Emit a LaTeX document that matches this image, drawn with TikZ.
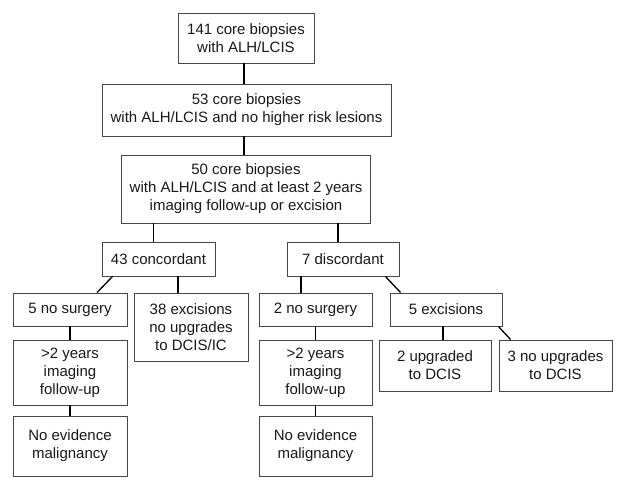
\documentclass[tikz,border=0pt]{standalone}
\usepackage{fontspec}
\setmainfont{Liberation Sans}
\begin{document}
\begin{tikzpicture}[x=1pt,y=-1pt,
  box/.style={draw=black!72,line width=0.9pt,rectangle,inner sep=0pt,align=center,
    font=\fontsize{15}{18}\selectfont,text=black!90,minimum width=113pt},
  link/.style={draw=black,line width=1.3pt}]
\useasboundingbox[fill=white] (0,0) rectangle (625,480);
\node[box,minimum width=136pt,minimum height=50pt] (b1) at (246,38) {141 core biopsies\\with ALH/LCIS};
\node[box,minimum width=289pt,minimum height=52pt] (b2) at (246.5,110) {53 core biopsies\\with ALH/LCIS and no higher risk lesions};
\node[box,minimum width=249pt,minimum height=68pt] (b3) at (246,189) {50 core biopsies\\with ALH/LCIS and at least 2 years\\imaging follow-up or excision};
\node[box,minimum height=34pt] (conc) at (158.5,259) {43 concordant};
\node[box,minimum width=112pt,minimum height=34pt] (disc) at (343,259) {7 discordant};
\node[box,minimum width=114pt,minimum height=33pt] (ns1) at (70,309.5) {5 no surgery};
\node[box,minimum width=114pt,minimum height=68pt] (exc38) at (191,327) {38 excisions\\no upgrades\\to DCIS/IC};
\node[box,minimum height=33pt] (ns2) at (315.5,309.5) {2 no surgery};
\node[box,minimum width=112pt,minimum height=33pt] (exc5) at (446,309.5) {5 excisions};
\node[box,minimum width=114pt,minimum height=65pt] (fu1) at (70,372.5) {>2 years\\imaging\\follow-up};
\node[box,minimum height=65pt] (fu2) at (315.5,372.5) {>2 years\\imaging\\follow-up};
\node[box,minimum width=112pt,minimum height=51pt] (up2) at (435,365.5) {2 upgraded\\to DCIS};
\node[box,minimum height=51pt] (nup3) at (555.5,365.5) {3 no upgrades\\to DCIS};
\node[box,minimum width=114pt,minimum height=60pt] (ne1) at (70,446) {No evidence\\malignancy};
\node[box,minimum height=60pt] (ne2) at (315.5,446) {No evidence\\malignancy};
\draw[link] ([xshift=-2pt]b1.south) -- ([xshift=-2pt]b1.south |- b2.north);
\draw[link] ([xshift=-2.5pt]b2.south) -- ([xshift=-2.5pt]b2.south |- b3.north);
\draw[link] ([xshift=-5pt]conc.north) -- ([xshift=-5pt]conc.north |- b3.south);
\draw[link] ([xshift=-5pt]disc.north) -- ([xshift=-5pt]disc.north |- b3.south);
\draw[link] ([xshift=11pt]conc.south west) -- ([xshift=27pt]ns1.north);
\draw[link] ([xshift=-13pt]exc38.north) -- ([xshift=-13pt]exc38.north |- conc.south);
\draw[link] ([xshift=-14.5pt]ns2.north) -- ([xshift=-14.5pt]ns2.north |- disc.south);
\draw[link] ([xshift=-14pt]disc.south east) -- ([xshift=11pt]exc5.north west);
\draw[link] ([xshift=-3pt]exc5.south) -- ([xshift=-3pt]exc5.south |- up2.north);
\draw[link] ([xshift=-4pt]exc5.south east) -- ([xshift=12pt]nup3.north west);
\draw[link] (ns1.south) -- (fu1.north);
\draw[link] (fu1.south) -- (ne1.north);
\draw[link] (ns2.south) -- (fu2.north);
\draw[link] (fu2.south) -- (ne2.north);
\end{tikzpicture}
\end{document}
